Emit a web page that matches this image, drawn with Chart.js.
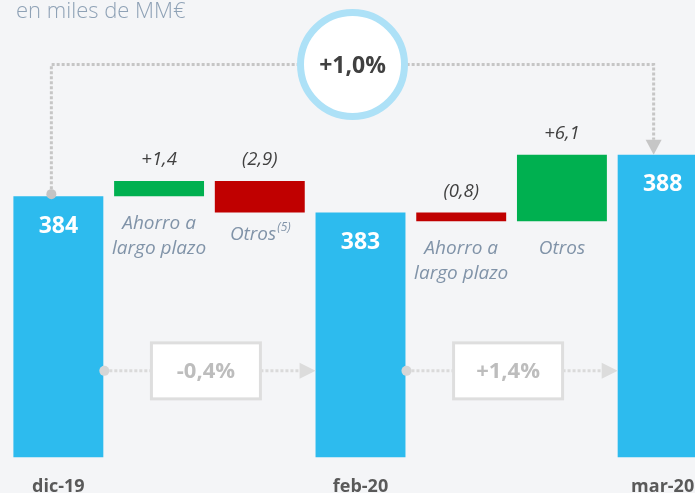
<!DOCTYPE html>
<html>
<head>
<meta charset="utf-8">
<script src="https://cdn.jsdelivr.net/npm/chart.js@4"></script>
<style>
  html, body { margin: 0; padding: 0; background: #f4f5f7; overflow: hidden; }
  #wrap { position: relative; width: 714px; height: 517px; }
</style>
</head>
<body>
<div id="wrap"><canvas id="graficoCascada"></canvas></div>
<script>
// Datos del gráfico
const categorias = ["dic-19", "Ahorro a largo plazo", "Otros", "feb-20", "Ahorro a largo plazo", "Otros", "mar-20"];
const tipos = ["total", "cambio", "cambio", "total", "cambio", "cambio", "total"];
const valorInicial = 384;
const cambios = [1.4, -2.9, -0.8, 6.1];
const etiquetasCambio = ["+1,4", "(2,9)", "(0,8)", "+6,1"];
const etiquetasCategoria = [["Ahorro a", "largo plazo"], ["Otros", "(5)"], ["Ahorro a", "largo plazo"], ["Otros"]];
const variaciones = ["-0,4%", "+1,4%"];
const variacionTotal = "+1,0%";
const ejeMin = 360;
const ejeMax = 400;

// Construye las barras flotantes de la cascada
let acumulado = valorInicial;
let k = 0;
const barras = [];
const totales = [];
const colores = [];
tipos.forEach((t) => {
  if (t === "total") {
    barras.push([ejeMin, acumulado]);
    totales.push(Math.round(acumulado));
    colores.push("#2dbbee");
  } else {
    const ini = acumulado;
    acumulado = +(acumulado + cambios[k]).toFixed(1);
    barras.push([ini, acumulado]);
    colores.push(cambios[k] >= 0 ? "#00b050" : "#c00000");
    k++;
  }
});

const FUENTE = "'Open Sans', 'Noto Sans', sans-serif";

function lineaPunteada(ctx, pts, color) {
  ctx.save();
  ctx.strokeStyle = color;
  ctx.lineWidth = 3;
  ctx.setLineDash([3, 2]);
  ctx.beginPath();
  ctx.moveTo(pts[0][0], pts[0][1]);
  for (let i = 1; i < pts.length; i++) ctx.lineTo(pts[i][0], pts[i][1]);
  ctx.stroke();
  ctx.restore();
}

function punto(ctx, x, y, r, color) {
  ctx.fillStyle = color;
  ctx.beginPath();
  ctx.arc(x, y, r, 0, Math.PI * 2);
  ctx.fill();
}

const decoracion = {
  id: "decoracion",
  beforeDraw(chart) {
    const c = chart.ctx;
    c.save();
    c.fillStyle = "#f4f5f7";
    c.fillRect(0, 0, chart.width, chart.height);
    c.restore();
  },
  afterDatasetsDraw(chart) {
    const ctx = chart.ctx;
    const meta = chart.getDatasetMeta(0);
    const y = chart.scales.y;
    ctx.save();

    // Subtítulo
    ctx.font = "300 22px " + FUENTE;
    ctx.fillStyle = "#8fa2b6";
    ctx.textAlign = "left";
    ctx.textBaseline = "alphabetic";
    ctx.fillText("en miles de MM€", 16, 18);

    // Etiquetas de barras
    let iTotal = 0, iCambio = 0;
    meta.data.forEach((el, i) => {
      const arriba = Math.min(el.y, el.base);
      const abajo = Math.max(el.y, el.base);
      ctx.textAlign = "center";
      ctx.textBaseline = "middle";
      if (tipos[i] === "total") {
        ctx.font = "bold 23px " + FUENTE;
        ctx.fillStyle = "#ffffff";
        ctx.fillText(String(totales[iTotal++]), el.x, arriba + 30);
      } else {
        ctx.font = "italic 18.5px " + FUENTE;
        ctx.fillStyle = "#404040";
        ctx.fillText(etiquetasCambio[iCambio], el.x, arriba - 21);
        ctx.fillStyle = "#8093a8";
        const lineas = etiquetasCategoria[iCambio];
        if (lineas[1] === "(5)") {
          ctx.font = "italic 19px " + FUENTE;
          const w1 = ctx.measureText(lineas[0]).width;
          ctx.font = "italic 12px " + FUENTE;
          const w2 = ctx.measureText(lineas[1]).width;
          const x0 = el.x - (w1 + w2) / 2;
          ctx.textAlign = "left";
          ctx.font = "italic 19px " + FUENTE;
          ctx.fillText(lineas[0], x0, abajo + 22);
          ctx.font = "italic 12px " + FUENTE;
          ctx.fillText(lineas[1], x0 + w1 + 1, abajo + 15);
        } else {
          ctx.font = "italic 19px " + FUENTE;
          lineas.forEach((l, j) => ctx.fillText(l, el.x, abajo + 27 + j * 25));
        }
        iCambio++;
      }
    });

    // Conector superior con variación total
    const b0 = meta.data[0], b6 = meta.data[6];
    const x1 = b0.x - 7, x2 = b6.x - 9;
    const yTop = y.getPixelForValue(396.1);
    const yIni = Math.min(b0.y, b0.base) - 2;
    const yFin = Math.min(b6.y, b6.base);
    lineaPunteada(ctx, [[x1, yIni], [x1, yTop], [x2, yTop], [x2, yFin - 15]], "#c6c6c6");
    punto(ctx, x1, yIni, 5, "#c4c4c4");
    ctx.fillStyle = "#c6c6c6";
    ctx.beginPath();
    ctx.moveTo(x2 - 8, yFin - 15);
    ctx.lineTo(x2 + 8, yFin - 15);
    ctx.lineTo(x2, yFin);
    ctx.closePath();
    ctx.fill();

    const cx = (x1 + x2) / 2;
    ctx.beginPath();
    ctx.arc(cx, yTop, 52, 0, Math.PI * 2);
    ctx.fillStyle = "#ffffff";
    ctx.fill();
    ctx.lineWidth = 7;
    ctx.strokeStyle = "#ade1f7";
    ctx.stroke();
    ctx.font = "bold 23px " + FUENTE;
    ctx.fillStyle = "#404040";
    ctx.textAlign = "center";
    ctx.textBaseline = "middle";
    ctx.fillText(variacionTotal, cx, yTop + 2);

    // Conectores inferiores entre totales
    const yc = y.getPixelForValue(367.95);
    const pares = [[0, 3], [3, 6]];
    pares.forEach((p, j) => {
      const a = meta.data[p[0]], b = meta.data[p[1]];
      const xs = a.x + a.width / 2 + 1;
      const xe = b.x - b.width / 2;
      const bw = 109, bh = 56;
      const bx = (xs + xe) / 2 - bw / 2 - 4;
      lineaPunteada(ctx, [[xs, yc], [bx, yc]], "#dadada");
      lineaPunteada(ctx, [[bx + bw, yc], [xe - 15, yc]], "#dadada");
      punto(ctx, xs, yc, 5, "#d6d6d6");
      ctx.fillStyle = "#dcdcdc";
      ctx.beginPath();
      ctx.moveTo(xe - 16, yc - 8);
      ctx.lineTo(xe - 16, yc + 8);
      ctx.lineTo(xe, yc);
      ctx.closePath();
      ctx.fill();
      ctx.fillStyle = "#ffffff";
      ctx.fillRect(bx, yc - bh / 2, bw, bh);
      ctx.lineWidth = 3;
      ctx.strokeStyle = "#dedede";
      ctx.strokeRect(bx, yc - bh / 2, bw, bh);
      ctx.font = "bold 22px " + FUENTE;
      ctx.fillStyle = "#bdbdbd";
      ctx.fillText(variaciones[j], bx + bw / 2, yc + 1);
    });

    ctx.restore();
  },
};

const lienzo = document.getElementById("graficoCascada").getContext("2d");

const config = {
  type: "bar",
  data: {
    labels: categorias,
    datasets: [
      {
        data: barras,
        backgroundColor: colores,
        borderWidth: 0,
        borderSkipped: false,
        categoryPercentage: 1,
        barPercentage: 90 / 100.8,
      },
    ],
  },
  options: {
    responsive: true,
    maintainAspectRatio: false,
    animation: false,
    layout: { padding: { top: 22, left: 8, right: 1, bottom: 0 } },
    plugins: { legend: { display: false }, tooltip: { enabled: false } },
    scales: {
      x: {
        grid: { display: false, drawTicks: false },
        border: { display: false },
        ticks: {
          autoSkip: false,
          maxRotation: 0,
          padding: 19,
          color: "#595959",
          font: { family: FUENTE, size: 18, weight: "bold" },
          callback: (v, i) => (tipos[i] === "total" ? categorias[i] : ""),
        },
      },
      y: { display: false, min: ejeMin, max: ejeMax },
    },
  },
  plugins: [decoracion],
};

const grafico = new Chart(lienzo, config);
</script>
</body>
</html>
